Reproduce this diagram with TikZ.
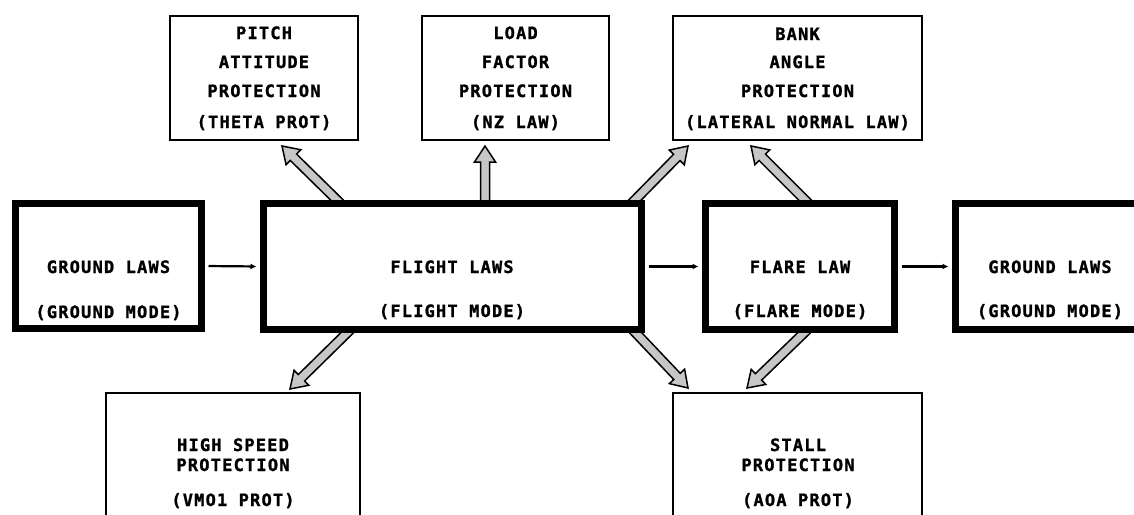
\documentclass[tikz,border=0pt]{standalone}
\usepackage{fontspec}
\newfontfamily\boxfont{DejaVu Sans Mono}[LetterSpace=7,BoldFeatures={FakeBold=1.2}]
\usetikzlibrary{calc,arrows.meta}
\definecolor{arrowgray}{gray}{0.78}
\tikzset{
  thickbox/.style={draw, line width=7pt, fill=white, inner sep=0pt},
  thinbox/.style={draw, line width=2pt, fill=white, inner sep=0pt},
  lbl/.style={font=\boxfont\bfseries\fontsize{17}{17}\selectfont, inner sep=0pt, anchor=base},
  flow/.style={line width=2.2pt, -{Latex[length=6pt,width=6pt]}},
  fat/.style={draw=black, line width=1.5pt, fill=arrowgray, line join=miter}
}
\newcommand\fatarrow[3]{%
  \coordinate (#1h) at ($(#3)!16pt!(#2)$);
  \draw[fat] ($(#2)!4.5pt!90:(#3)$) -- ($(#1h)!4.5pt!90:(#3)$) -- ($(#1h)!10.5pt!90:(#3)$) -- (#3)
    -- ($(#1h)!10.5pt!-90:(#3)$) -- ($(#1h)!4.5pt!-90:(#3)$) -- ($(#2)!4.5pt!-90:(#3)$) -- cycle;
}
\begin{document}
\begin{tikzpicture}[x=1pt,y=-1pt]
\clip (0,0) rectangle (1134,514);
\fill[white] (0,0) rectangle (1134,514);
% fat arrow end points
\coordinate (pT) at (340,203);  \coordinate (pP) at (282,146);
\coordinate (lT) at (485,203);  \coordinate (lP) at (485,146);
\coordinate (b1T) at (632,203); \coordinate (b1P) at (688,146);
\coordinate (b2T) at (808,203); \coordinate (b2P) at (751,146);
\coordinate (hT) at (350,330);  \coordinate (hP) at (290,389);
\coordinate (s1T) at (633,330); \coordinate (s1P) at (688,388);
\coordinate (s2T) at (807,330); \coordinate (s2P) at (747,388);
\fatarrow{pa}{pT}{pP}
\fatarrow{la}{lT}{lP}
\fatarrow{ba}{b1T}{b1P}
\fatarrow{bb}{b2T}{b2P}
\fatarrow{ha}{hT}{hP}
\fatarrow{sa}{s1T}{s1P}
\fatarrow{sb}{s2T}{s2P}
% thick boxes
\node[thickbox, minimum width=186pt, minimum height=125pt] (gl) at (108.5,266) {};
\node[thickbox, minimum width=378pt, minimum height=126pt] (fl) at (452.5,266.5) {};
\node[thickbox, minimum width=189pt, minimum height=126pt] (fr) at (800,266.5) {};
\node[thickbox, minimum width=189pt, minimum height=126pt] (gr) at (1050,266.5) {};
% thin boxes
\node[thinbox, minimum width=188pt, minimum height=124pt] (pitch) at (264,78) {};
\node[thinbox, minimum width=187pt, minimum height=124pt] (load) at (515.5,78) {};
\node[thinbox, minimum width=249pt, minimum height=124pt] (bank) at (797.5,78) {};
\node[thinbox, minimum width=254pt, minimum height=166pt] (high) at (233,476) {};
\node[thinbox, minimum width=249pt, minimum height=166pt] (stall) at (797.5,476) {};
% texts
\node[lbl] (gl1) at (108.5,273) {GROUND LAWS};
\node[lbl] (gl2) at (108.5,318) {(GROUND MODE)};
\node[lbl] (fl1) at (452,273) {FLIGHT LAWS};
\node[lbl] (fl2) at (452,317) {(FLIGHT MODE)};
\node[lbl] (fr1) at (800,273) {FLARE LAW};
\node[lbl] (fr2) at (800,317) {(FLARE MODE)};
\node[lbl] (gr1) at (1050,273) {GROUND LAWS};
\node[lbl] (gr2) at (1050,317) {(GROUND MODE)};
\node[lbl] (p1) at (264,39) {PITCH};
\node[lbl] (p2) at (264,68) {ATTITUDE};
\node[lbl] (p3) at (264,97) {PROTECTION};
\node[lbl] (p4) at (264,128) {(THETA PROT)};
\node[lbl] (l1) at (515.5,39) {LOAD};
\node[lbl] (l2) at (515.5,68) {FACTOR};
\node[lbl] (l3) at (515.5,97) {PROTECTION};
\node[lbl] (l4) at (515.5,128) {(NZ LAW)};
\node[lbl] (b1) at (797.5,40) {BANK};
\node[lbl] (b2) at (797.5,68) {ANGLE};
\node[lbl] (b3) at (797.5,97) {PROTECTION};
\node[lbl] (b4) at (797.5,128) {(LATERAL NORMAL LAW)};
\node[lbl] (h1) at (233,451) {HIGH SPEED};
\node[lbl] (h2) at (233,471) {PROTECTION};
\node[lbl] (h3) at (233,506) {(VMO1 PROT)};
\node[lbl] (s1) at (798,451) {STALL};
\node[lbl] (s2) at (798,471) {PROTECTION};
\node[lbl] (s3) at (798,506) {(AOA PROT)};
% flow connectors
\draw[flow, shorten >=3.5pt, shorten <=3.5pt] (gl.east) -- (fl.west);
\draw[flow, shorten >=3.5pt, shorten <=3.5pt] (fl.east) -- (fr.west);
\draw[flow, shorten >=3.5pt, shorten <=3.5pt] (fr.east) -- (gr.west);
\end{tikzpicture}
\end{document}
